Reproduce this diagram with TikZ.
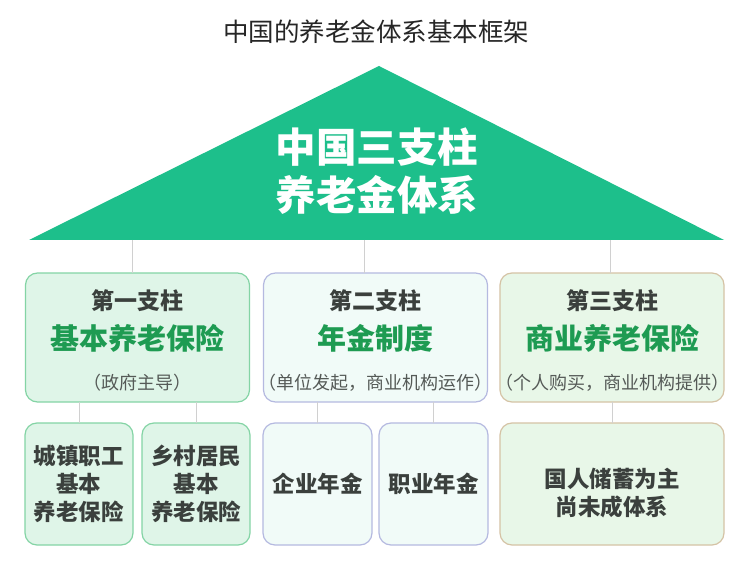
\documentclass[tikz,border=0pt]{standalone}
\usepackage{fontspec}
\setmainfont{Noto Sans CJK SC}
\begin{document}
\begin{tikzpicture}[x=1pt,y=-1pt,
  every node/.style={inner sep=0pt, outer sep=0pt, align=center},
  conn/.style={draw=linegray, line width=0.8pt},
  pillar/.style={draw, line width=1.2pt, rounded corners=12pt, minimum width=224pt, minimum height=129pt},
  pilltext/.style={font=\fontsize{23}{40}\selectfont},
  subbox/.style={draw, line width=1.2pt, rounded corners=12pt, minimum height=122pt},
  pgreen/.style={pillar, draw=b1border, fill=b1fill},
  pblue/.style={pillar, draw=b2border, fill=b2fill},
  ptan/.style={pillar, draw=b3border, fill=b3fill},
  sgreen/.style={subbox, draw=b1border, fill=b1fill},
  sblue/.style={subbox, draw=b2border, fill=b2fill},
  stan/.style={subbox, draw=b3border, fill=b3fill},
  subtext/.style={font=\fontsize{22.5}{28}\selectfont\bfseries, text=txtdark},
]
\definecolor{tri}{HTML}{1DBF8B}
\definecolor{linegray}{HTML}{D0D0D0}
\definecolor{b1fill}{HTML}{DFF5E8}
\definecolor{b1border}{HTML}{84D4A5}
\definecolor{b2fill}{HTML}{F1FBF8}
\definecolor{b2border}{HTML}{B5B9E0}
\definecolor{b3fill}{HTML}{E8F7E8}
\definecolor{b3border}{HTML}{D5C3A5}
\definecolor{txtdark}{HTML}{3B403D}
\definecolor{txtgray}{HTML}{555A57}
\definecolor{txtgreen}{HTML}{1E9B52}

\newcommand{\headline}[1]{{\fontsize{23}{40}\selectfont\bfseries\color{txtdark}#1}}
\newcommand{\bigline}[1]{{\fontsize{29}{40}\selectfont\bfseries\color{txtgreen}#1}}
\newcommand{\noteline}[1]{{\fontsize{18}{40}\selectfont\color{txtgray}#1}}

\useasboundingbox[fill=white] (0,0) rectangle (747,564);

% title
\node[font=\fontsize{25.5}{25.5}\selectfont, text=black!85] (title) at (376,32) {中国的养老金体系基本框架};

% roof
\coordinate (apex) at (379,66);
\coordinate (baseL) at (29,240);
\coordinate (baseR) at (724,240);
\fill[tri] (apex) -- (baseR) -- (baseL) -- cycle;
\node[text=white, font=\fontsize{40.5}{48}\selectfont\bfseries] (roof) at (377,171) {中国三支柱\\养老金体系};

% pillars
\node[pgreen] (p1) at (137.5,337.5) {};
\node[pblue]  (p2) at (375.5,337.5) {};
\node[ptan]   (p3) at (612,337.5) {};
\node[pilltext] (p1t) at ([yshift=-3pt]p1.center) {\headline{第一支柱}\\\bigline{基本养老保险}\\\noteline{（政府主导）}};
\node[pilltext] (p2t) at ([yshift=-3pt]p2.center) {\headline{第二支柱}\\\bigline{年金制度}\\\noteline{（单位发起，商业机构运作）}};
\node[pilltext] (p3t) at ([yshift=-3pt]p3.center) {\headline{第三支柱}\\\bigline{商业养老保险}\\\noteline{（个人购买，商业机构提供）}};

% sub boxes
\node[sgreen, subtext, minimum width=108pt] (s1) at (79,484) {城镇职工\\基本\\养老保险};
\node[sgreen, subtext, minimum width=108pt] (s2) at (196,484) {乡村居民\\基本\\养老保险};
\node[sblue, subtext, minimum width=109pt] (s3) at (317.5,484) {企业年金};
\node[sblue, subtext, minimum width=109pt] (s4) at (433.5,484) {职业年金};
\node[stan, minimum width=224pt] (s5) at (612,484) {};
\node[subtext] (s5t) at ([yshift=-9pt]s5.center) {国人储蓄为主\\尚未成体系};

% connectors roof -> pillars
\coordinate (r1) at (132,240);
\coordinate (r2) at (364,240);
\coordinate (r3) at (610,240);
\draw[conn] (r1) -- (r1 |- p1.north);
\draw[conn] (r2) -- (r2 |- p2.north);
\draw[conn] (r3) -- (r3 |- p3.north);

% connectors pillars -> sub boxes
\draw[conn] (p1.south -| s1.north) -- (s1.north);
\draw[conn] (p1.south -| s2.north) -- (s2.north);
\draw[conn] (p2.south -| s3.north) -- (s3.north);
\draw[conn] (p2.south -| s4.north) -- (s4.north);
\draw[conn] (p3.south -| s5.north) -- (s5.north);
\end{tikzpicture}
\end{document}
